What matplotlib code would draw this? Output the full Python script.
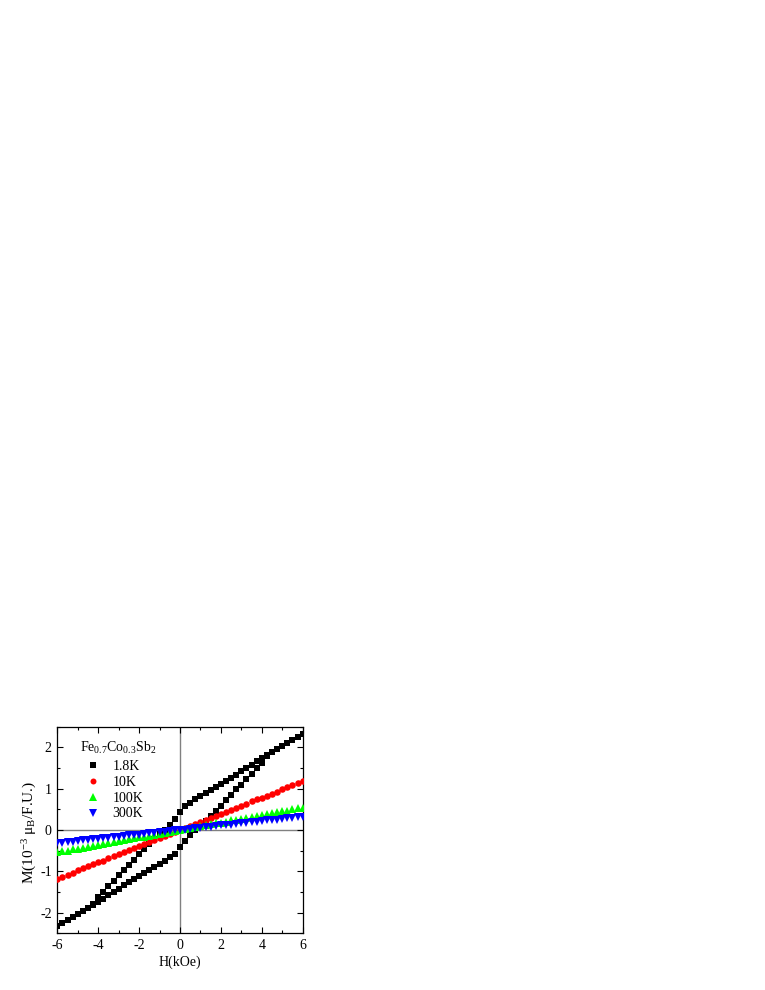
import matplotlib
matplotlib.use("Agg")
import matplotlib.pyplot as plt
from matplotlib.ticker import MultipleLocator
from matplotlib.lines import Line2D

plt.rcParams['font.family'] = ['Liberation Serif', 'DejaVu Serif']
plt.rcParams['mathtext.fontset'] = 'custom'
plt.rcParams['mathtext.rm'] = 'Liberation Serif'
plt.rcParams['mathtext.it'] = 'Liberation Serif'
plt.rcParams['mathtext.default'] = 'regular'
plt.rcParams['axes.unicode_minus'] = False

# field points (kOe), same grid for every curve
field = [-6.0, -5.75, -5.5, -5.25, -5.0, -4.75, -4.5, -4.25, -4.0, -3.75, -3.5, -3.25,
         -3.0, -2.75, -2.5, -2.25, -2.0, -1.75, -1.5, -1.25, -1.0, -0.75, -0.5, -0.25,
         0.0, 0.25, 0.5, 0.75, 1.0, 1.25, 1.5, 1.75, 2.0, 2.25, 2.5, 2.75, 3.0, 3.25,
         3.5, 3.75, 4.0, 4.25, 4.5, 4.75, 5.0, 5.25, 5.5, 5.75, 6.0]

# 1.8K loop: branch swept down from +6 and branch swept up from -6
m_18k_down = [-2.32, -2.25, -2.18, -2.10, -2.03, -1.96, -1.88, -1.78, -1.63, -1.50, -1.36, -1.23,
              -1.10, -0.98, -0.85, -0.72, -0.59, -0.47, -0.35, -0.22, -0.10, 0.01, 0.13, 0.27,
              0.43, 0.57, 0.66, 0.75, 0.83, 0.90, 0.97, 1.04, 1.11, 1.18, 1.26, 1.34, 1.42, 1.50,
              1.58, 1.66, 1.74, 1.81, 1.88, 1.96, 2.03, 2.10, 2.18, 2.25, 2.32]
m_18k_up = [-2.32, -2.25, -2.18, -2.10, -2.03, -1.96, -1.88, -1.81, -1.74, -1.66, -1.58, -1.50,
            -1.42, -1.34, -1.26, -1.18, -1.11, -1.04, -0.97, -0.90, -0.83, -0.75, -0.66, -0.57,
            -0.42, -0.27, -0.13, -0.01, 0.10, 0.22, 0.35, 0.47, 0.59, 0.72, 0.85, 0.98, 1.10, 1.23,
            1.36, 1.50, 1.63, 1.78, 1.88, 1.96, 2.03, 2.10, 2.18, 2.25, 2.32]
m_10k = [-1.18, -1.13, -1.08, -1.03, -0.98, -0.93, -0.88, -0.83, -0.78, -0.74, -0.69, -0.64,
         -0.59, -0.54, -0.49, -0.44, -0.39, -0.34, -0.29, -0.25, -0.20, -0.15, -0.10, -0.05,
         0.00, 0.05, 0.10, 0.15, 0.20, 0.25, 0.29, 0.34, 0.39, 0.44, 0.49, 0.54, 0.59, 0.64,
         0.69, 0.74, 0.78, 0.83, 0.88, 0.93, 0.98, 1.03, 1.08, 1.13, 1.18]
m_100k = [-0.54, -0.52, -0.50, -0.47, -0.45, -0.43, -0.41, -0.38, -0.36, -0.34, -0.32, -0.29,
          -0.27, -0.25, -0.23, -0.20, -0.18, -0.16, -0.14, -0.11, -0.09, -0.07, -0.05, -0.02,
          0.00, 0.02, 0.05, 0.07, 0.09, 0.11, 0.14, 0.16, 0.18, 0.20, 0.23, 0.25, 0.27, 0.29,
          0.32, 0.34, 0.36, 0.38, 0.41, 0.43, 0.45, 0.47, 0.50, 0.52, 0.54]
m_300k = [-0.32, -0.31, -0.29, -0.28, -0.27, -0.25, -0.24, -0.23, -0.21, -0.20, -0.19, -0.17,
          -0.16, -0.15, -0.13, -0.12, -0.11, -0.09, -0.08, -0.07, -0.05, -0.04, -0.03, -0.01,
          0.00, 0.01, 0.03, 0.04, 0.05, 0.07, 0.08, 0.09, 0.11, 0.12, 0.13, 0.15, 0.16, 0.17,
          0.19, 0.20, 0.21, 0.23, 0.24, 0.25, 0.27, 0.28, 0.29, 0.31, 0.32]

labels = ['1.8K', '10K', '100K', '300K']
colors = ['black', 'red', '#00ff00', 'blue']
markers = ['s', 'o', '^', 'v']
sample = r'Fe$_{0.7}$Co$_{0.3}$Sb$_2$'

fig = plt.figure(figsize=(7.65, 9.9), dpi=100)
ax = fig.add_axes([0.0749, 0.0573, 0.3208, 0.2087])

# reference lines through zero
ax.axhline(0, color='#808080', lw=1.0, zorder=1)
ax.axvline(0, color='#808080', lw=1.0, zorder=1)

ms = 4.3
ax.plot(field, m_18k_down, ls='none', marker=markers[0], color=colors[0], ms=ms, mew=0, zorder=3)
ax.plot(field, m_18k_up, ls='none', marker=markers[0], color=colors[0], ms=ms, mew=0, zorder=3)
ax.plot(field, m_10k, ls='none', marker=markers[1], color=colors[1], ms=ms + 0.4, mew=0, zorder=3)
ax.plot(field, m_100k, ls='none', marker=markers[2], color=colors[2], ms=ms + 1.0, mew=0, zorder=3)
ax.plot(field, m_300k, ls='none', marker=markers[3], color=colors[3], ms=ms + 1.0, mew=0, zorder=3)

ax.set_xlim(-6, 6)
ax.set_ylim(-2.5, 2.5)
ax.xaxis.set_major_locator(MultipleLocator(2))
ax.xaxis.set_minor_locator(MultipleLocator(1))
ax.yaxis.set_major_locator(MultipleLocator(1))
ax.yaxis.set_minor_locator(MultipleLocator(0.5))
ax.tick_params(which='both', direction='in', top=True, right=True, labelsize=10, width=0.8)
ax.tick_params(which='major', length=4, pad=4)
ax.tick_params(which='minor', length=2.5)
for s in ax.spines.values():
    s.set_linewidth(0.9)

ax.set_xlabel('H(kOe)', fontsize=10, labelpad=3)
ax.set_ylabel(r'M(10$^{-3}$ μ$_B$/F.U.)', fontsize=11)
ax.yaxis.set_label_coords(-0.075, 0.49)

# sample name sits above the legend entries
ax.text(0.092, 0.897, sample, transform=ax.transAxes, fontsize=10, ha='left', va='center')

handles = [Line2D([], [], ls='none', marker=m, color=c, ms=ms + (1.0 if m in '^v' else 0), mew=0)
           for m, c in zip(markers, colors)]
leg = ax.legend(handles, labels, frameon=False, loc='upper left',
                bbox_to_anchor=(0.113, 0.84), fontsize=10, handlelength=1.2,
                handletextpad=0.76, labelspacing=0.21, borderpad=0, borderaxespad=0)

fig.savefig('out.png', dpi=100)
